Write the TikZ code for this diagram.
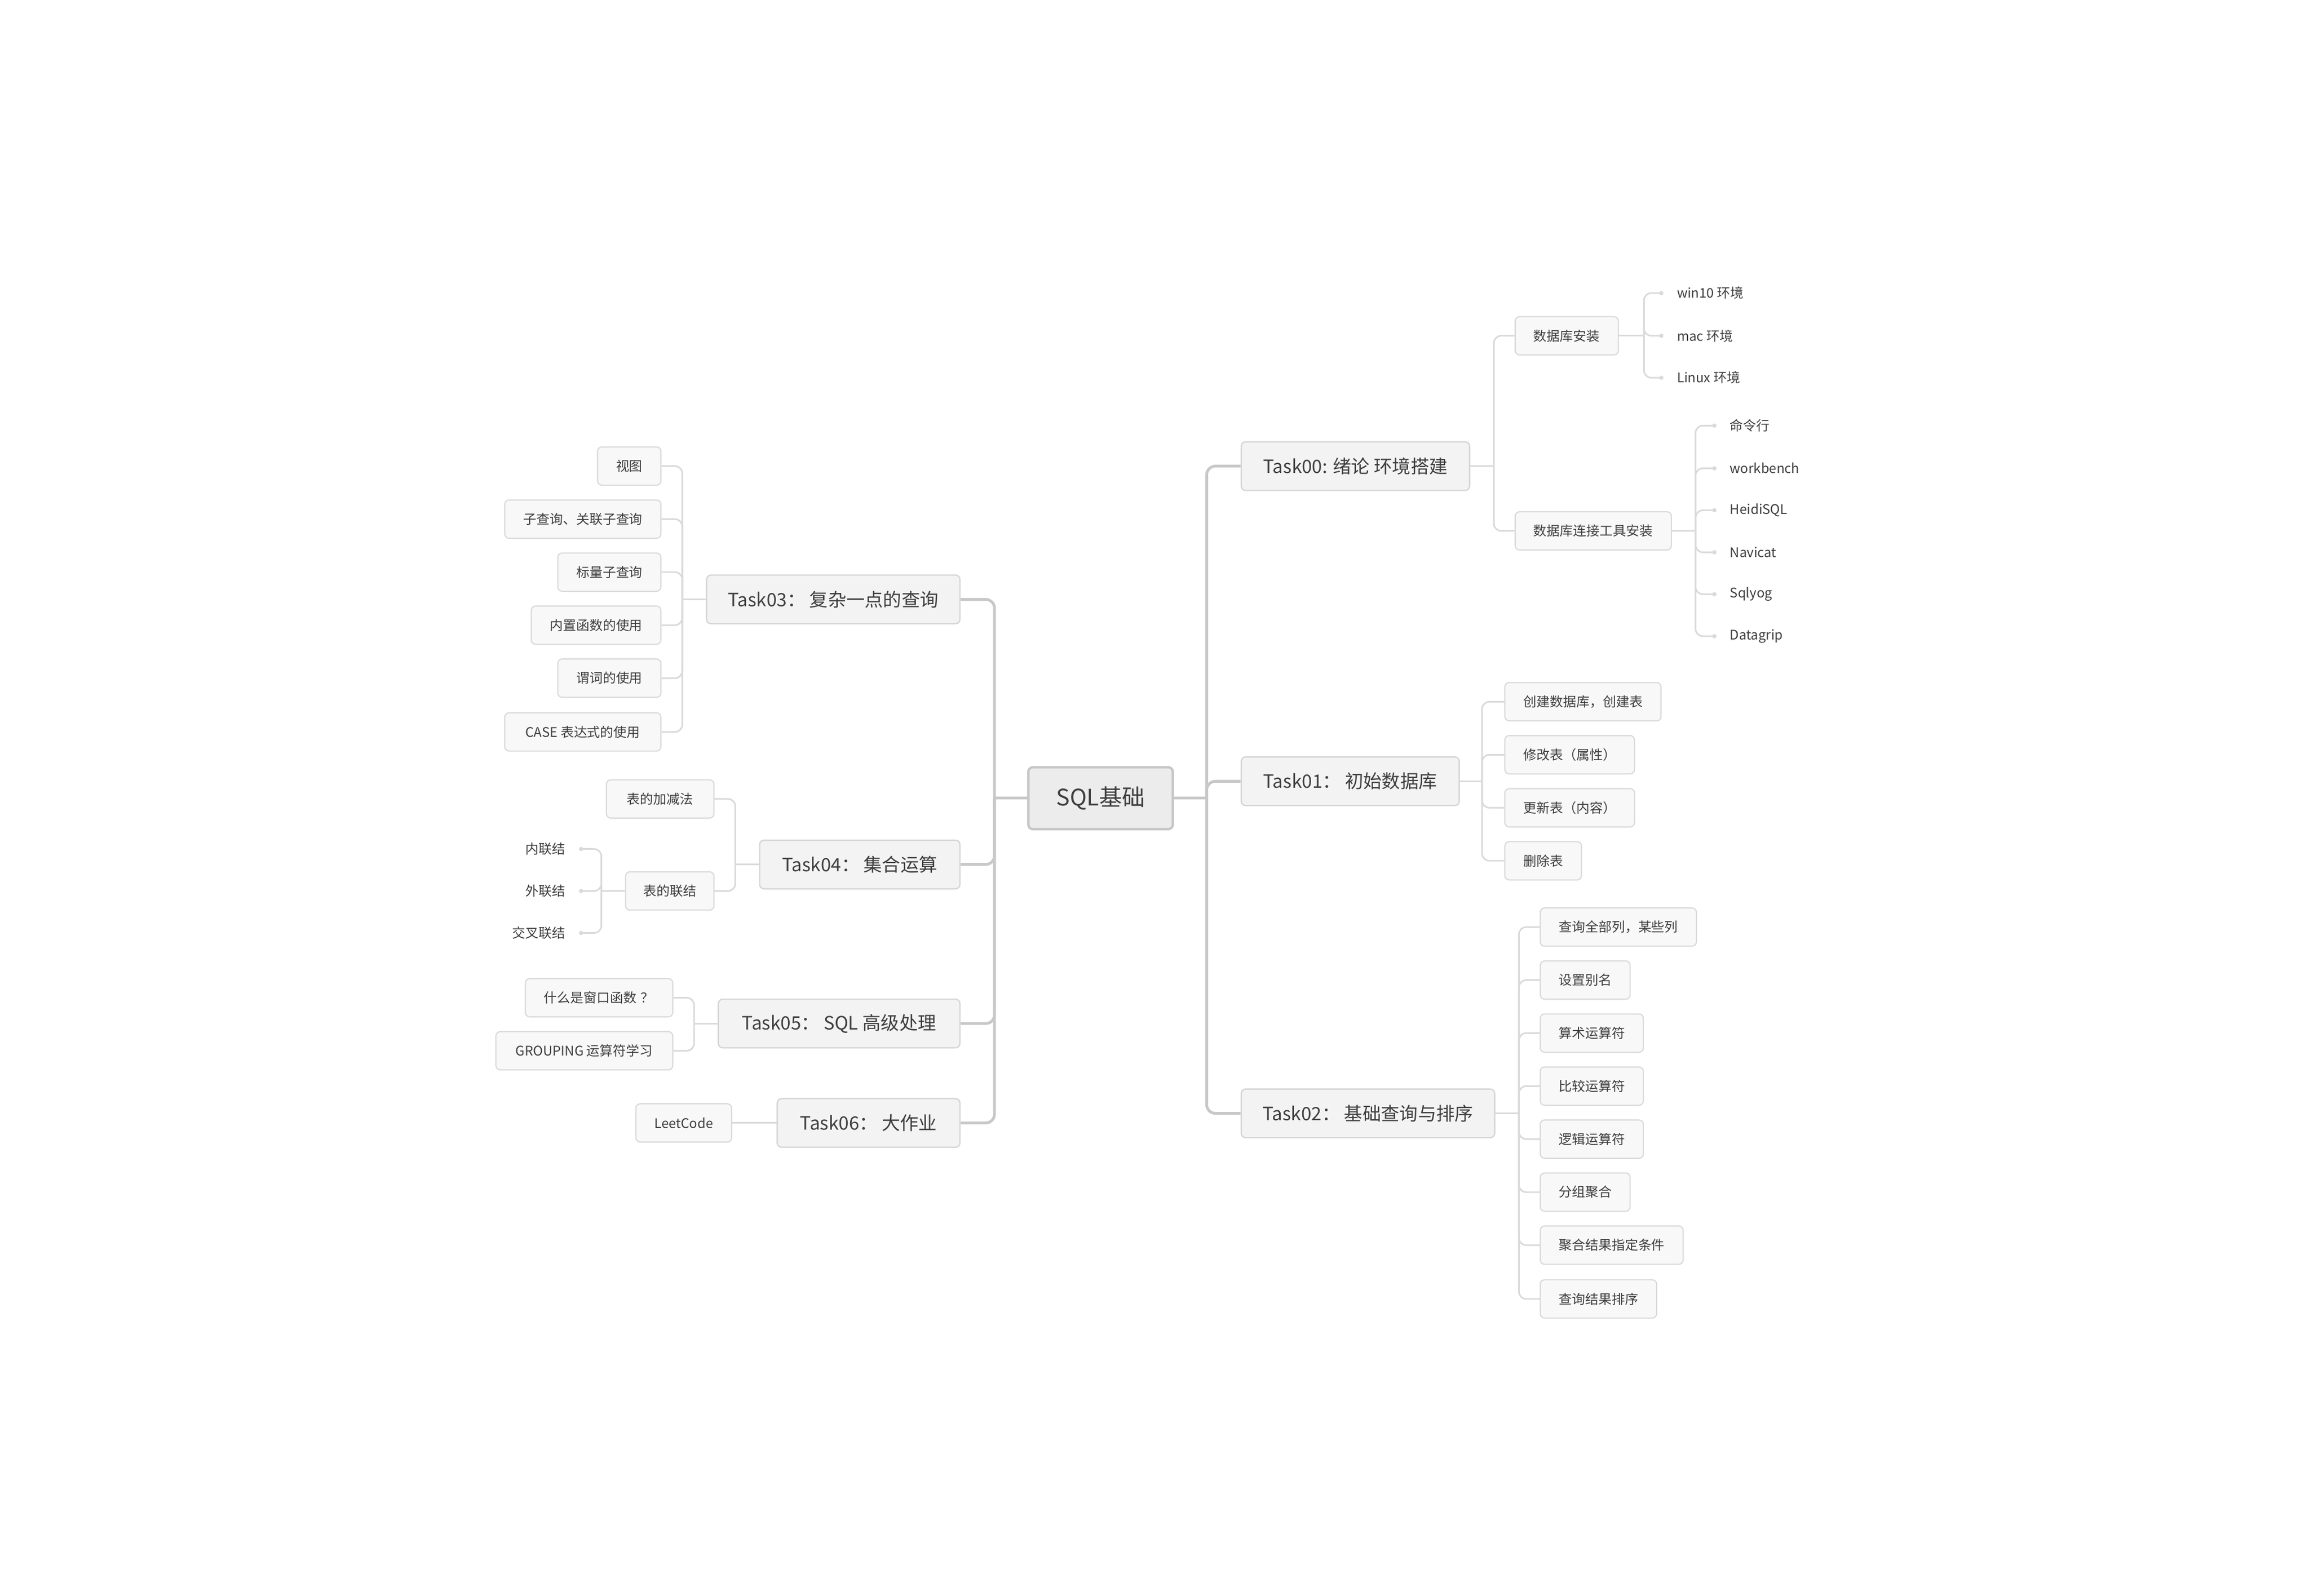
\documentclass[tikz,border=0pt]{standalone}
\usepackage{fontspec}
\setmainfont{Noto Sans CJK SC}
\usetikzlibrary{arrows.meta,calc}
\definecolor{txt}{HTML}{3E3E3E}
\definecolor{rootfill}{HTML}{ECECEC}
\definecolor{rootline}{HTML}{C6C6C6}
\definecolor{taskfill}{HTML}{F3F3F3}
\definecolor{taskline}{HTML}{D6D6D6}
\definecolor{subfill}{HTML}{F8F8F8}
\definecolor{subline}{HTML}{DADADA}
\definecolor{mainc}{HTML}{C8C8C8}
\definecolor{subc}{HTML}{DADADA}
\begin{document}
\begin{tikzpicture}[x=1pt,y=-1pt,
  rootnode/.style={draw=rootline, line width=1.6pt, fill=rootfill, rounded corners=3pt, minimum width=98pt, minimum height=42pt, inner sep=0pt, font=\fontsize{15.5}{18}\selectfont, text=txt},
  tasknode/.style={draw=taskline, line width=0.9pt, fill=taskfill, rounded corners=3pt, minimum height=33pt, inner sep=0pt, font=\fontsize{12.5}{15}\selectfont, text=txt},
  subnode/.style={draw=subline, line width=0.8pt, fill=subfill, rounded corners=3pt, minimum height=26pt, inner sep=0pt, font=\fontsize{9}{11}\selectfont, text=txt},
  leafnode/.style={inner sep=0pt, font=\fontsize{9}{11}\selectfont, text=txt},
  mainlink/.style={draw=mainc, line width=1.9pt, rounded corners=6pt},
  sublink/.style={draw=subc, line width=1.1pt, rounded corners=5pt},
  dotlink/.style={draw=subc, line width=1.1pt, rounded corners=5pt, -{Circle[length=2.8pt]}}
]
\fill[white] (0,0) rectangle (1567.2,1083.4);
\useasboundingbox (0,0) rectangle (1567.2,1083.4);

% root
\node[rootnode] (root) at (747,542) {SQL基础};

% right tasks
\node[tasknode, minimum width=155pt, anchor=west] (t0) at (842,316.5) {Task00: 绪论 环境搭建};
\node[tasknode, minimum width=148pt, anchor=west] (t1) at (842,530.5) {Task01： 初始数据库};
\node[tasknode, minimum width=172pt, anchor=west] (t2) at (842,756) {Task02： 基础查询与排序};

% left tasks
\node[tasknode, minimum width=172pt, anchor=east] (t3) at (652,407) {Task03： 复杂一点的查询};
\node[tasknode, minimum width=136pt, anchor=east] (t4) at (652,587) {Task04： 集合运算};
\node[tasknode, minimum width=164pt, anchor=east] (t5) at (652,695) {Task05： SQL 高级处理};
\node[tasknode, minimum width=124pt, anchor=east] (t6) at (652,762.5) {Task06： 大作业};

% main connectors
\coordinate (jr) at (819,542);
\coordinate (jl) at (675,542);
\draw[mainlink] (root.east) -- (jr);
\draw[mainlink] (root.west) -- (jl);
\foreach \t in {t0,t1,t2} \draw[mainlink] (jr) |- (\t.west);
\foreach \t in {t3,t4,t5,t6} \draw[mainlink] (jl) |- (\t.east);

% Task00 children
\node[subnode, minimum width=70pt, anchor=west] (s01) at (1028,228) {数据库安装};
\node[subnode, minimum width=106pt, anchor=west] (s02) at (1028,360.5) {数据库连接工具安装};
\coordinate (j0) at ($(t0.east)+(16,0)$);
\draw[sublink] (t0.east) -- (j0);
\foreach \s in {s01,s02} \draw[sublink] (j0) |- (\s.west);

\node[leafnode, anchor=west] (w1) at (1138,199) {win10 环境};
\node[leafnode, anchor=west] (w2) at (1138,228) {mac 环境};
\node[leafnode, anchor=west] (w3) at (1138,256.5) {Linux 环境};
\coordinate (ja) at ($(s01.east)+(17,0)$);
\draw[sublink] (s01.east) -- (ja);
\foreach \l in {w1,w2,w3} \draw[dotlink] (ja) |- ($(\l.west)+(-9,0)$);

\node[leafnode, anchor=west] (c1) at (1174,289) {命令行};
\node[leafnode, anchor=west] (c2) at (1174,318) {workbench};
\node[leafnode, anchor=west] (c3) at (1174,346.5) {HeidiSQL};
\node[leafnode, anchor=west] (c4) at (1174,375) {Navicat};
\node[leafnode, anchor=west] (c5) at (1174,403.5) {Sqlyog};
\node[leafnode, anchor=west] (c6) at (1174,432) {Datagrip};
\coordinate (jb) at ($(s02.east)+(16,0)$);
\draw[sublink] (s02.east) -- (jb);
\foreach \l in {c1,c2,c3,c4,c5,c6} \draw[dotlink] (jb) |- ($(\l.west)+(-9,0)$);

% Task01 children
\node[subnode, minimum width=106pt, anchor=west] (s11) at (1021,476.5) {创建数据库，创建表};
\node[subnode, minimum width=88pt, anchor=west] (s12) at (1021,512.5) {修改表（属性）};
\node[subnode, minimum width=88pt, anchor=west] (s13) at (1021,548.5) {更新表（内容）};
\node[subnode, minimum width=52pt, anchor=west] (s14) at (1021,584.5) {删除表};
\coordinate (j1) at ($(t1.east)+(15,0)$);
\draw[sublink] (t1.east) -- (j1);
\foreach \s in {s11,s12,s13,s14} \draw[sublink] (j1) |- (\s.west);

% Task02 children
\node[subnode, minimum width=106pt, anchor=west] (s21) at (1045,629.5) {查询全部列，某些列};
\node[subnode, minimum width=61pt, anchor=west] (s22) at (1045,665.5) {设置别名};
\node[subnode, minimum width=70pt, anchor=west] (s23) at (1045,701.5) {算术运算符};
\node[subnode, minimum width=70pt, anchor=west] (s24) at (1045,737.5) {比较运算符};
\node[subnode, minimum width=70pt, anchor=west] (s25) at (1045,773.5) {逻辑运算符};
\node[subnode, minimum width=61pt, anchor=west] (s26) at (1045,809.5) {分组聚合};
\node[subnode, minimum width=97pt, anchor=west] (s27) at (1045,845.5) {聚合结果指定条件};
\node[subnode, minimum width=79pt, anchor=west] (s28) at (1045,882) {查询结果排序};
\coordinate (j2) at ($(t2.east)+(16,0)$);
\draw[sublink] (t2.east) -- (j2);
\foreach \s in {s21,s22,s23,s24,s25,s26,s27,s28} \draw[sublink] (j2) |- (\s.west);

% Task03 children
\node[subnode, minimum width=43pt, anchor=east] (s31) at (449,316.5) {视图};
\node[subnode, minimum width=106pt, anchor=east] (s32) at (449,352.5) {子查询、关联子查询};
\node[subnode, minimum width=70pt, anchor=east] (s33) at (449,388.5) {标量子查询};
\node[subnode, minimum width=88pt, anchor=east] (s34) at (449,424.5) {内置函数的使用};
\node[subnode, minimum width=70pt, anchor=east] (s35) at (449,460.5) {谓词的使用};
\node[subnode, minimum width=106pt, anchor=east] (s36) at (449,497) {CASE 表达式的使用};
\coordinate (j3) at ($(t3.west)+(-16,0)$);
\draw[sublink] (t3.west) -- (j3);
\foreach \s in {s31,s32,s33,s34,s35,s36} \draw[sublink] (j3) |- (\s.east);

% Task04 children
\node[subnode, minimum width=73pt, anchor=east] (s41) at (485,542.5) {表的加减法};
\node[subnode, minimum width=60pt, anchor=east] (s42) at (485,605) {表的联结};
\coordinate (j4) at ($(t4.west)+(-16,0)$);
\draw[sublink] (t4.west) -- (j4);
\foreach \s in {s41,s42} \draw[sublink] (j4) |- (\s.east);

\node[leafnode, anchor=east] (k1) at (384,576.5) {内联结};
\node[leafnode, anchor=east] (k2) at (384,605) {外联结};
\node[leafnode, anchor=east] (k3) at (384,633.5) {交叉联结};
\coordinate (jk) at ($(s42.west)+(-16,0)$);
\draw[sublink] (s42.west) -- (jk);
\foreach \l in {k1,k2,k3} \draw[dotlink] (jk) |- ($(\l.east)+(9,0)$);

% Task05 children
\node[subnode, minimum width=100pt, anchor=east] (s51) at (457,677.5) {什么是窗口函数\kern0.3em？};
\node[subnode, minimum width=120pt, anchor=east] (s52) at (457,713.5) {GROUPING 运算符学习};
\coordinate (j5) at ($(t5.west)+(-16,0)$);
\draw[sublink] (t5.west) -- (j5);
\foreach \s in {s51,s52} \draw[sublink] (j5) |- (\s.east);

% Task06 child
\node[subnode, minimum width=65pt, anchor=east] (s61) at (497,762.5) {LeetCode};
\draw[sublink] (t6.west) -- (s61.east);
\end{tikzpicture}
\end{document}
